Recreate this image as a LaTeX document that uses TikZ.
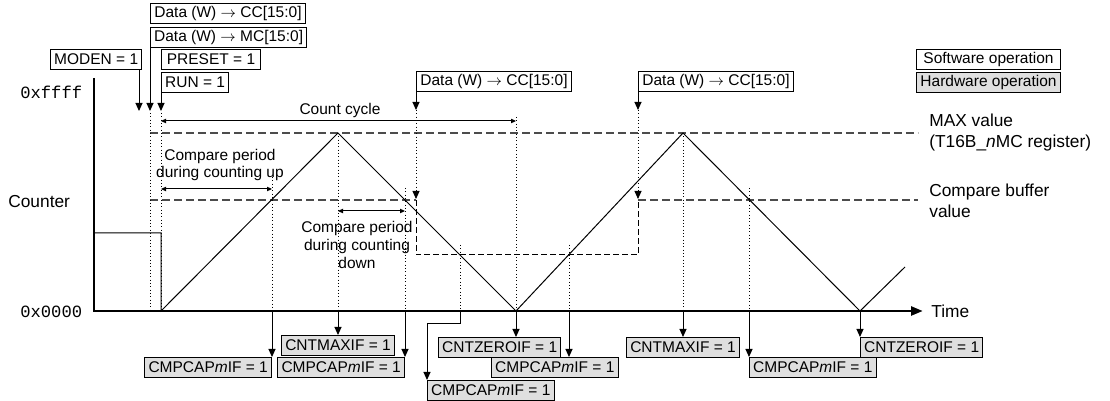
\documentclass[tikz,border=0pt]{standalone}
\usepackage{fontspec}
\setmainfont{Liberation Sans}
\setmonofont{Liberation Mono}
\usetikzlibrary{positioning,arrows.meta}

\begin{document}
\begin{tikzpicture}[
  x=0.6pt, y=-0.6pt,
  every node/.style={font=\fontsize{9.3}{11}\selectfont, inner sep=0pt},
  swbox/.style={draw, line width=0.6pt, fill=white, inner xsep=2.2pt, minimum height=12pt},
  hwbox/.style={swbox, fill=gray!25},
  lbl/.style={font=\fontsize{10.4}{12.6}\selectfont, align=left},
  midlbl/.style={font=\fontsize{9.3}{10.6}\selectfont, align=center},
  hexlbl/.style={font=\ttfamily\fontsize{10.3}{12}\selectfont},
  flag/.style={-{Triangle[length=4.8pt,width=4.2pt]}, line width=0.6pt},
  span/.style={{Triangle[length=3pt,width=2.6pt]}-{Triangle[length=3pt,width=2.6pt]}, line width=0.6pt},
  guide/.style={line width=0.5pt, dash pattern=on 0.7pt off 1.3pt},
  maxline/.style={black!70, line width=0.85pt, dash pattern=on 4.8pt off 2.4pt},
  stepline/.style={line width=0.6pt, dash pattern=on 3.6pt off 1.8pt},
  wave/.style={line width=0.6pt}
]
  \useasboundingbox (0,0) rectangle (1110,401);

  % software operations
  \node[swbox, anchor=north west] (moden) at (50,49) {MODEN = 1};
  \node[swbox, anchor=north west, minimum width=93pt] (datacc) at (150,3) {Data (W) $\rightarrow$ CC[15:0]};
  \node[swbox, below=1.8pt of datacc.south west, anchor=north west, minimum width=93pt] (datamc) {Data (W) $\rightarrow$ MC[15:0]};
  \node[swbox, anchor=north west, minimum width=59.4pt] (preset) at (161,49) {PRESET = 1};
  \node[swbox, below=1.2pt of preset.south west, anchor=north west] (run) {RUN = 1};
  \node[swbox, anchor=north west, minimum width=93pt] (datacc2) at (416,71) {Data (W) $\rightarrow$ CC[15:0]};
  \node[swbox, anchor=north west, minimum width=93pt] (datacc3) at (638,71) {Data (W) $\rightarrow$ CC[15:0]};
  \node[swbox, anchor=north west, minimum width=86.4pt] (sw) at (916,49) {Software operation};
  \node[hwbox, below=1.2pt of sw.south west, anchor=north west, minimum width=86.4pt] (hw) {Hardware operation};

  % axes and labels
  \coordinate (ytop) at (94,78);
  \coordinate (origin) at (94,311);
  \node[lbl, anchor=west] (time) at (931,311) {Time};
  \node[hexlbl, anchor=west] (ffff) at (20,92) {0xffff};
  \node[hexlbl, anchor=west] (zero) at (20,312) {0x0000};
  \node[lbl, anchor=west] (counter) at (8,202) {Counter};
  \node[lbl, anchor=west] (maxval) at (929,133) {MAX value\\(T16B\_\textit{n}MC register)};
  \node[lbl, anchor=west] (cmpbuf) at (929,201) {Compare buffer\\value};

  % key points
  \coordinate (start) at (161,311);
  \coordinate (pk1) at (338,133);
  \coordinate (bt1) at (516,311);
  \coordinate (pk2) at (683,133);
  \coordinate (bt2) at (860,311);
  \coordinate (tend) at (905,267);
  \coordinate (a1) at (272,311);
  \coordinate (a2) at (338,311);
  \coordinate (a3) at (405,311);
  \coordinate (a4) at (460,311);
  \coordinate (a6) at (569,311);
  \coordinate (a7) at (683,311);
  \coordinate (a8) at (749,311);
  \coordinate (tsw) at (139,111);
  \coordinate (wr1) at (416,110);
  \coordinate (ld1) at (416,199);
  \coordinate (wr2) at (638,110);
  \coordinate (ld2) at (638,199);

  % reference levels
  \draw[maxline] (150,133) -- (918,133);
  \draw[maxline] (150,200) -- (ld1 |- 0,200);
  \draw[stepline] (416,200) -- (416,255) -- (638,255) -- (638,200);
  \draw[maxline] (638,200) -- (918,200);

  % dotted guides
  \draw[guide] (150,113) -- (150,311);
  \draw[guide] (161,113) -- (161,311);
  \draw[guide] (272,177) -- (a1);
  \draw[guide] (pk1) -- (a2);
  \draw[guide] (405,188) -- (a3);
  \draw[guide] (460,245) -- (a4);
  \draw[guide] (516,117) -- (bt1);
  \draw[guide] (569,245) -- (a6);
  \draw[guide] (pk2) -- (a7);
  \draw[guide] (749,188) -- (a8);

  % counter
  \draw[wave] (94,233) -- (161,233) -- (start) -- (pk1) -- (bt1) -- (pk2) -- (bt2) -- (tend);
  \draw[line width=1.2pt, -{Triangle[length=7pt,width=5.5pt]}, shorten >=5pt] (ytop) -- (origin) -- (time.west);

  % periods
  \node[midlbl] (cyclelbl) at (340,110) {Count cycle};
  \draw[span] (161,121) -- (516,121);
  \node[midlbl] (uplbl) at (220,165) {Compare period\\during counting up};
  \draw[span] (161,189) -- (272,189);
  \node[midlbl] (downlbl) at (357,245) {Compare period\\during counting\\down};
  \draw[span] (338,211) -- (405,211);

  % software arrows
  \draw[flag] (tsw |- moden.south) -- (tsw);
  \draw[flag] (datamc.south west) -- (datamc.south west |- tsw);
  \draw[flag] (run.south west) -- (run.south west |- tsw);
  \draw[flag] (datacc2.south west) -- (wr1);
  \draw[flag, guide] (wr1) -- (ld1);
  \draw[flag] (datacc3.south west) -- (wr2);
  \draw[flag, guide] (wr2) -- (ld2);

  % hardware operations
  \node[hwbox, anchor=north east] (cmp1) at (272,357) {CMPCAP\textit{m}IF = 1};
  \node[hwbox, anchor=north] (max1) at (338,335) {CNTMAXIF = 1};
  \node[hwbox, anchor=north east] (cmp2) at (405,357) {CMPCAP\textit{m}IF = 1};
  \node[hwbox, anchor=north west] (cmp3) at (427,380) {CMPCAP\textit{m}IF = 1};
  \node[hwbox, anchor=north west] (zero1) at (438,337) {CNTZEROIF = 1};
  \node[hwbox, anchor=north west] (cmp4) at (491,357) {CMPCAP\textit{m}IF = 1};
  \node[hwbox, anchor=north] (max2) at (683,337) {CNTMAXIF = 1};
  \node[hwbox, anchor=north west] (cmp5) at (749,357) {CMPCAP\textit{m}IF = 1};
  \node[hwbox, anchor=north west] (zero2) at (860,337) {CNTZEROIF = 1};

  \draw[flag] (a1) -- (cmp1.north east);
  \draw[flag] (a2) -- (max1.north);
  \draw[flag] (a3) -- (cmp2.north east);
  \draw[flag] (a4) -- ++(0,13) -| (cmp3.north west);
  \draw[flag] (bt1) -- (bt1 |- zero1.north);
  \draw[flag] (a6) -- (a6 |- cmp4.north);
  \draw[flag] (a7) -- (max2.north);
  \draw[flag] (a8) -- (cmp5.north west);
  \draw[flag] (bt2) -- (zero2.north west);
\end{tikzpicture}
\end{document}
